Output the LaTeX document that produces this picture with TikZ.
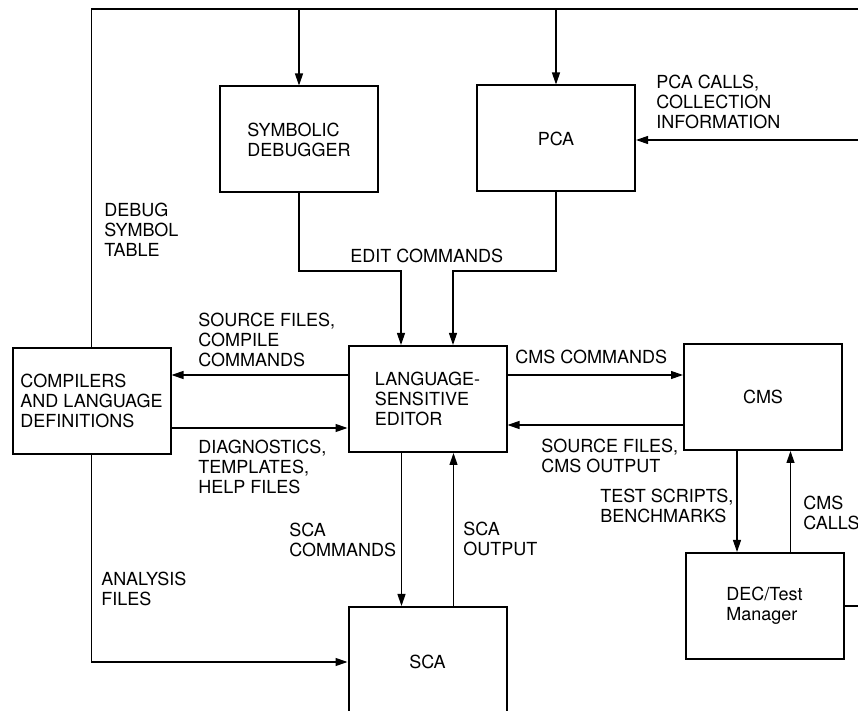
\documentclass[tikz,border=0pt]{standalone}
\usepackage{fontspec}
\setmainfont{TeX Gyre Heros}
\usetikzlibrary{arrows.meta}

\begin{document}
\begin{tikzpicture}[x=0.5pt, y=-0.5pt,
    box/.style={draw, line width=1pt, minimum width=79pt, minimum height=53pt,
        align=left, font=\fontsize{9}{10}\selectfont},
    lbl/.style={anchor=north west, inner sep=0pt, align=left,
        font=\fontsize{9}{10}\selectfont},
    line/.style={line width=0.6pt},
    arr/.style={line width=0.6pt, -{Triangle[length=6pt, width=4pt]}}]
    \useasboundingbox (0,0) rectangle (858,711);
    % boxes
    \node[box] (sd) at (299,139.5) {SYMBOLIC\\DEBUGGER};
    \node[box] (pca) at (556,138.5) {PCA};
    \node[box] (comp) at (91.5,401) {COMPILERS\\AND LANGUAGE\\DEFINITIONS};
    \node[box] (lse) at (427.5,399) {LANGUAGE-\\SENSITIVE\\EDITOR};
    \node[box] (cms) at (763,397) {CMS};
    \node[box] (dec) at (764.5,606) {DEC/Test\\Manager};
    \node[box, minimum height=55pt] (sca) at (427.5,662) {SCA};
    % free ends and bends
    \coordinate (topR) at (858,9);
    \coordinate (pcaIn) at (858,140);
    \coordinate (decOut) at (858,606);
    \coordinate (editL) at (401,271);
    \coordinate (editR) at (453,271);
    % debug symbol table
    \draw[line] (comp.north) |- (topR);
    \draw[arr] (sd.north |- topR) -- (sd.north);
    \draw[arr] (pca.north |- topR) -- (pca.north);
    \draw[arr] (pcaIn) -- (pcaIn -| pca.east);
    % edit commands
    \draw[arr] (sd.south) |- (editL) -- (editL |- lse.north);
    \draw[arr] (pca.south) |- (editR) -- (editR |- lse.north);
    % compilers <-> editor
    \draw[arr] ([yshift=12pt]lse.west) -- ([yshift=12pt]lse.west -| comp.east);
    \draw[arr] ([yshift=-13.5pt]comp.east) -- ([yshift=-13.5pt]comp.east -| lse.west);
    % editor <-> cms
    \draw[arr] ([yshift=12pt]lse.east) -- ([yshift=12pt]lse.east -| cms.west);
    \draw[arr] ([yshift=-14pt]cms.west) -- ([yshift=-14pt]cms.west -| lse.east);
    % editor <-> sca
    \draw[arr] ([xshift=-13pt]lse.south) -- ([xshift=-13pt]lse.south |- sca.north);
    \draw[arr] ([xshift=13pt]sca.north) -- ([xshift=13pt]sca.north |- lse.south);
    \draw[arr] (comp.south) |- (sca.west);
    % cms <-> dec/test manager
    \draw[arr] ([xshift=-13pt]cms.south) -- ([xshift=-13pt]cms.south |- dec.north);
    \draw[arr] ([xshift=13pt]dec.north) -- ([xshift=13pt]dec.north |- cms.south);
    \draw[line] (dec.east) -- (decOut);
    % labels
    \node[lbl] (lDebug) at (104,203) {DEBUG\\SYMBOL\\TABLE};
    \node[lbl] (lPcaCalls) at (656,75) {PCA CALLS,\\COLLECTION\\INFORMATION};
    \node[lbl] (lEdit) at (350,249) {EDIT COMMANDS};
    \node[lbl] (lSrc) at (198,313) {SOURCE FILES,\\COMPILE\\COMMANDS};
    \node[lbl] (lDiag) at (198,440) {DIAGNOSTICS,\\TEMPLATES,\\HELP FILES};
    \node[lbl] (lCmsCmd) at (515,350) {CMS COMMANDS};
    \node[lbl] (lCmsOut) at (541,439) {SOURCE FILES,\\CMS OUTPUT};
    \node[lbl] (lTest) at (600,489) {TEST SCRIPTS,\\BENCHMARKS};
    \node[lbl] (lCmsCalls) at (803,496) {CMS\\CALLS};
    \node[lbl] (lScaCmd) at (289,523) {SCA\\COMMANDS};
    \node[lbl] (lScaOut) at (463,522) {SCA\\OUTPUT};
    \node[lbl] (lAnalysis) at (101,572) {ANALYSIS\\FILES};
\end{tikzpicture}
\end{document}
